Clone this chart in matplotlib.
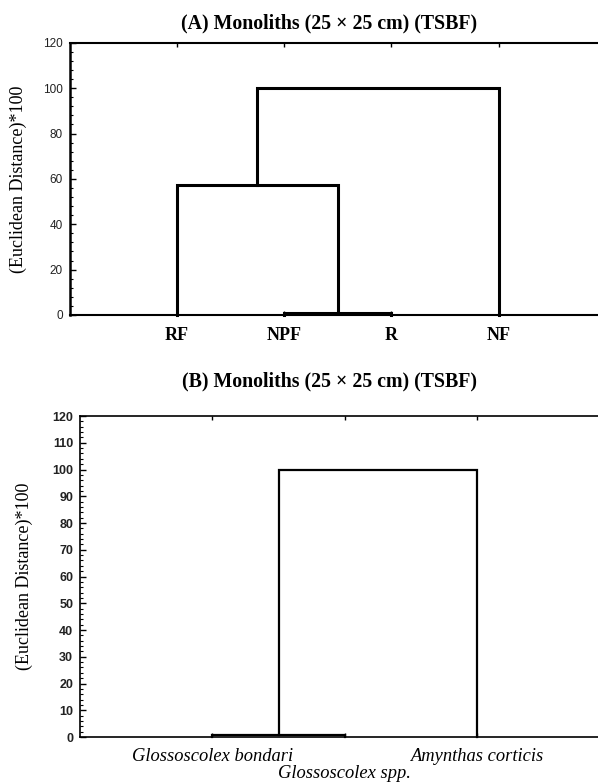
import matplotlib
matplotlib.use("Agg")
import matplotlib.pyplot as plt
from matplotlib.ticker import MultipleLocator

# Panel A: sites
leaves_a = ["RF", "NPF", "R", "NF"]
# merges: (left cluster, right cluster, height); clusters are leaf names or merge indices
merges_a = [("NPF", "R", 0.8), ("RF", 0, 57.5), (1, "NF", 100.0)]

# Panel B: species
leaves_b = ["Glossoscolex bondari", "Glossoscolex spp.", "Amynthas corticis"]
merges_b = [("Glossoscolex bondari", "Glossoscolex spp.", 0.6), (0, "Amynthas corticis", 100.0)]

SERIF = "Liberation Serif"
SANS = "Liberation Sans"


def dendro_segments(leaves, merges):
    """Return list of (xs, ys) U-shapes for a dendrogram"""
    pos = {name: (i + 1, 0.0) for i, name in enumerate(leaves)}
    segs = []
    for k, (a, b, h) in enumerate(merges):
        xa, ya = pos[a]
        xb, yb = pos[b]
        segs.append(([xa, xa, xb, xb], [ya, h, h, yb]))
        pos[k] = ((xa + xb) / 2.0, h)
    return segs


def style_axes(ax, lw_spine):
    for side in ["left", "bottom", "top"]:
        ax.spines[side].set_linewidth(lw_spine)
    ax.spines["right"].set_visible(False)
    ax.tick_params(axis="y", which="major", direction="in", length=4, width=1,
                   labelcolor="#222222", pad=5)
    ax.tick_params(axis="y", which="minor", direction="in", length=2, width=0.8)
    ax.tick_params(axis="x", which="major", direction="in", length=3, width=1,
                   top=True, bottom=True, pad=9)


fig = plt.figure(figsize=(5.98, 7.82), dpi=100)

# ---- Panel A ----
ax1 = fig.add_axes([0.117, 0.5972, 0.896, 0.348])
for xs, ys in dendro_segments(leaves_a, merges_a):
    ax1.plot(xs, ys, color="black", lw=2.2, solid_joinstyle="miter", clip_on=False)
ax1.set_xlim(0, 5)
ax1.set_ylim(0, 120)
ax1.yaxis.set_major_locator(MultipleLocator(20))
ax1.yaxis.set_minor_locator(MultipleLocator(4))
ax1.set_xticks(range(1, len(leaves_a) + 1))
ax1.set_xticklabels(leaves_a, fontfamily=SERIF, fontweight="bold", fontsize=13)
for lab in ax1.get_yticklabels():
    lab.set_fontfamily(SANS)
    lab.set_fontsize(8.5)
style_axes(ax1, 1.5)
ax1.spines["left"].set_linewidth(1.8)
ax1.set_ylabel("(Euclidean Distance)*100", fontfamily=SERIF, fontsize=13)
ax1.yaxis.set_label_coords(-0.080, 0.5)
fig.text(329 / 598, 1 - 23 / 782, "(A) Monoliths (25 \u00d7 25 cm) (TSBF)",
         ha="center", va="center", fontfamily=SERIF, fontweight="bold", fontsize=14.3)

# ---- Panel B ----
ax2 = fig.add_axes([0.134, 0.0575, 0.885, 0.4105])
for xs, ys in dendro_segments(leaves_b, merges_b):
    ax2.plot(xs, ys, color="black", lw=1.6, solid_joinstyle="miter", clip_on=False)
ax2.set_xlim(0, 4)
ax2.set_ylim(0, 120)
ax2.yaxis.set_major_locator(MultipleLocator(10))
ax2.yaxis.set_minor_locator(MultipleLocator(2))
ax2.set_xticks(range(1, len(leaves_b) + 1))
labels_b = [("\n" + n) if i % 2 else n for i, n in enumerate(leaves_b)]
ax2.set_xticklabels(labels_b, fontfamily=SERIF, fontstyle="italic", fontsize=13.3)
for lab in ax2.get_xticklabels():
    lab.set_linespacing(1.0)
for lab in ax2.get_yticklabels():
    lab.set_fontfamily(SANS)
    lab.set_fontsize(9)
    lab.set_fontweight("bold")
style_axes(ax2, 1.2)
ax2.tick_params(axis="x", pad=8)
ax2.set_ylabel("(Euclidean Distance)*100", fontfamily=SERIF, fontsize=13)
ax2.yaxis.set_label_coords(-0.089, 0.5)
fig.text(330 / 598, 1 - 381 / 782, "(B) Monoliths (25 \u00d7 25 cm) (TSBF)",
         ha="center", va="center", fontfamily=SERIF, fontweight="bold", fontsize=14.3)

fig.savefig("out.png", dpi=100)
